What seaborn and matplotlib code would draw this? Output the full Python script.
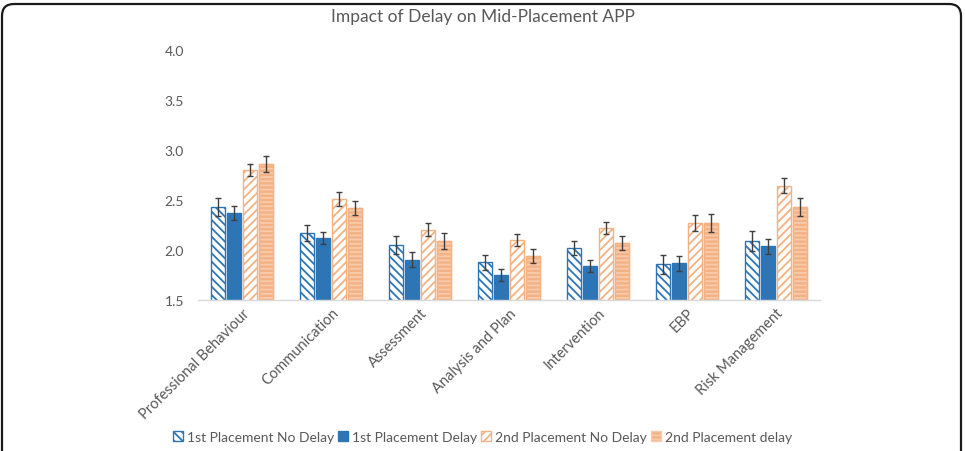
import numpy as np
import pandas as pd
import matplotlib
matplotlib.use("Agg")
import matplotlib.pyplot as plt
import matplotlib.patches as mpatches
import seaborn as sns

# Chart data
categories = ["Professional Behaviour", "Communication", "Assessment",
              "Analysis and Plan", "Intervention", "EBP", "Risk Management"]
series = ["1st Placement No Delay", "1st Placement Delay",
          "2nd Placement No Delay", "2nd Placement delay"]

first_no_delay = [2.43, 2.165, 2.05, 1.875, 2.02, 1.855, 2.09]
first_delay = [2.37, 2.12, 1.90, 1.75, 1.84, 1.865, 2.035]
second_no_delay = [2.80, 2.51, 2.20, 2.10, 2.22, 2.27, 2.64]
second_delay = [2.86, 2.42, 2.09, 1.94, 2.07, 2.27, 2.43]

first_no_delay_err = [0.088, 0.08, 0.087, 0.073, 0.07, 0.095, 0.096]
first_delay_err = [0.067, 0.064, 0.075, 0.06, 0.056, 0.076, 0.075]
second_no_delay_err = [0.06, 0.07, 0.065, 0.062, 0.056, 0.08, 0.075]
second_delay_err = [0.077, 0.072, 0.078, 0.07, 0.07, 0.09, 0.093]

values = [first_no_delay, first_delay, second_no_delay, second_delay]
errors = [first_no_delay_err, first_delay_err, second_no_delay_err, second_delay_err]

# Long-form table for seaborn
rows = []
for s, vals in zip(series, values):
    for c, v in zip(categories, vals):
        rows.append({"Category": c, "Series": s, "Score": v})
df = pd.DataFrame(rows)

blue = "#2E75B6"
orange = "#F4B183"
light_orange = "#F8CBAD"
text_grey = "#595959"

sns.set_theme(style="white")
plt.rcParams["font.family"] = ["Lato", "DejaVu Sans"]
plt.rcParams["hatch.linewidth"] = 1.3

fig = plt.figure(figsize=(9.65, 4.52), dpi=100)
ax = fig.add_axes([0.205, 0.334, 0.645, 0.554])

sns.barplot(data=df, x="Category", y="Score", hue="Series", order=categories,
            hue_order=series, errorbar=None, width=0.72, gap=0.12,
            palette=[blue, blue, orange, orange], legend=False, ax=ax)

# styles per series: facecolor, hatch, hatch/edge colour
styles = [
    ("white", "\\\\\\\\", blue),
    (blue, None, blue),
    ("white", "////", orange),
    (orange, "----", light_orange),
]

for cont, (fc, hatch, ec), errs in zip(ax.containers, styles, errors):
    for bar, e in zip(cont, errs):
        bar.set_facecolor(fc)
        bar.set_edgecolor(ec)
        bar.set_hatch(hatch)
        bar.set_linewidth(1.0)
        x = bar.get_x() + bar.get_width() / 2
        ax.errorbar(x, bar.get_height(), yerr=e, fmt="none", ecolor="#404040",
                    elinewidth=1.0, capsize=2.5, capthick=1.0)
    if ec == light_orange:
        for bar in cont:
            ax.add_patch(mpatches.Rectangle((bar.get_x(), 1.5), bar.get_width(),
                                            bar.get_height() - 1.5, fill=False,
                                            ec=orange, lw=1.0))

ax.set_ylim(1.5, 4.0)
ax.set_yticks([1.5, 2.0, 2.5, 3.0, 3.5, 4.0])
ax.set_yticklabels(["1.5", "2.0", "2.5", "3.0", "3.5", "4.0"])
ax.set_xlim(-0.5, len(categories) - 0.5)
ax.set_xlabel("")
ax.set_ylabel("")

for side in ["top", "right", "left"]:
    ax.spines[side].set_visible(False)
ax.spines["bottom"].set_color("#D9D9D9")
ax.spines["bottom"].set_linewidth(1.0)

ax.tick_params(axis="y", length=0, pad=24, labelsize=10, labelcolor=text_grey)
ax.tick_params(axis="x", length=0, pad=4, labelsize=10.5, labelcolor=text_grey)
plt.setp(ax.get_xticklabels(), rotation=45, ha="right", rotation_mode="anchor")
for lab in ax.get_yticklabels():
    lab.set_horizontalalignment("left")

fig.text(0.5, 0.962, "Impact of Delay on Mid-Placement APP", ha="center",
         va="center", fontsize=12.5, color=text_grey)

# legend
handles = [mpatches.Patch(facecolor=fc, edgecolor=ec, hatch=h, label=s)
           for (fc, h, ec), s in zip(styles, series)]
fig.legend(handles=handles, loc="center", bbox_to_anchor=(0.5, 0.031), ncol=4,
           frameon=False, fontsize=10, labelcolor=text_grey, handlelength=0.7,
           handleheight=0.7, handletextpad=0.3, columnspacing=0.3)

# rounded frame around the whole picture (bottom edge falls outside)
frame = mpatches.FancyBboxPatch((2, -30), 959, 477,
                                boxstyle="round,pad=0,rounding_size=12",
                                transform=None, fill=False, ec="#1a1a1a", lw=1.6)
fig.patches.append(frame)

fig.savefig("out.png", dpi=100)
